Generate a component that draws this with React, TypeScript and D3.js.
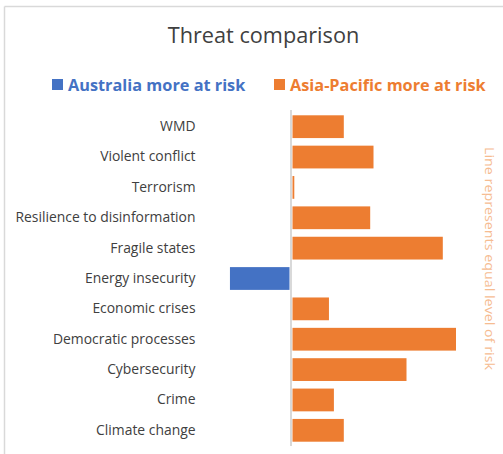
import React from "react";
import * as d3 from "d3";

const categories: string[] = [
  "WMD",
  "Violent conflict",
  "Terrorism",
  "Resilience to disinformation",
  "Fragile states",
  "Energy insecurity",
  "Economic crises",
  "Democratic processes",
  "Cybersecurity",
  "Crime",
  "Climate change",
];
const values: number[] = [1.6, 2.5, 0.1, 2.4, 4.6, -1.85, 1.15, 5.0, 3.5, 1.3, 1.6];
const legendLabels: string[] = ["Australia more at risk", "Asia-Pacific more at risk"];
const title = "Threat comparison";
const sideNote = "Line represents equal level of risk";

const BLUE = "#4472C4";
const ORANGE = "#ED7D31";
const FONT = "'Open Sans', 'Noto Sans', sans-serif";

export default function App() {
  const W = 503;
  const H = 454;
  const x = d3.scaleLinear().domain([-2.5, 5.5]).range([208.5, 472.5]);
  const y = d3.scaleBand<string>().domain(categories).range([111.5, 445.5]).paddingInner(0.25).paddingOuter(0.125);

  return (
    <svg
      width={W}
      height={H}
      style={{ position: "absolute", left: 0, top: 0, fontFamily: FONT }}
    >
      <rect x={0} y={0} width={W} height={H} fill="#fff" />
      <line x1={4.5} x2={W} y1={6.5} y2={6.5} stroke="#d9d9d9" strokeWidth={1.5} />
      <line x1={4.5} x2={4.5} y1={6.5} y2={H} stroke="#d9d9d9" strokeWidth={1.5} />

      <text x={263.5} y={43} textAnchor="middle" fontSize={21.7} fill="#404040">
        {title}
      </text>

      <rect x={52} y={79} width={11} height={11} fill={BLUE} />
      <text x={68} y={90.5} fontSize={16.3} fontWeight={700} fill={BLUE}>
        {legendLabels[0]}
      </text>
      <rect x={274} y={79} width={11} height={11} fill={ORANGE} />
      <text x={290} y={90.5} fontSize={16.3} fontWeight={700} fill={ORANGE}>
        {legendLabels[1]}
      </text>

      {categories.map((c, i) => {
        const v = values[i];
        const x0 = x(Math.min(0, v));
        const x1 = x(Math.max(0, v));
        return (
          <g key={c}>
            <rect
              x={v >= 0 ? x0 + 1.5 : x0}
              y={y(c)!}
              width={Math.max(0, x1 - x0 - 1.5)}
              height={y.bandwidth()}
              fill={v >= 0 ? ORANGE : BLUE}
            />
            <text
              x={195.5}
              y={y(c)! + y.bandwidth() / 2 - 0.5}
              dy="0.35em"
              textAnchor="end"
              fontSize={13.9}
              fill="#404040"
            >
              {c}
            </text>
          </g>
        );
      })}

      <line x1={x(0)} x2={x(0)} y1={110} y2={446} stroke="#d9d9d9" strokeWidth={2} />

      <text
        transform={`translate(484.5,147) rotate(90)`}
        fontSize={13}
        textLength={223}
        lengthAdjust="spacingAndGlyphs"
        fill="#F6BC91"
      >
        {sideNote}
      </text>
    </svg>
  );
}
